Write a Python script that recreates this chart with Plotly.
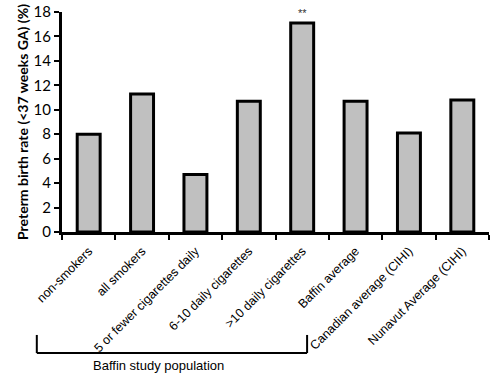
import plotly.graph_objects as go

categories = ["non-smokers", "all smokers", "5 or fewer cigarettes daily",
              "6-10 daily cigarettes", ">10 daily cigarettes", "Baffin average",
              "Canadian average (CIHI)", "Nunavut Average (CIHI)"]
rates = [8.0, 11.3, 4.7, 10.7, 17.1, 10.7, 8.1, 10.8]
y_ticks = [0, 2, 4, 6, 8, 10, 12, 14, 16, 18]
star_label = "**"
star_category = ">10 daily cigarettes"
group_label = "Baffin study population"

fig = go.Figure()
fig.add_trace(go.Bar(
    x=categories, y=rates, width=0.43,
    marker=dict(color="#c0c0c0", line=dict(color="black", width=3)),
    hoverinfo="skip",
))

fig.add_annotation(x=star_category, y=rates[categories.index(star_category)],
                   text=star_label, showarrow=False, yanchor="bottom", yshift=2,
                   font=dict(family="Liberation Sans, Arial", size=11, color="#333"))

# bracket for study population
br_left, br_right, br_top, br_bot = -0.059, 0.574, -0.468, -0.55
for x0, y0, x1, y1 in [(br_left, br_top, br_left, br_bot),
                       (br_left, br_bot, br_right, br_bot),
                       (br_right, br_bot, br_right, br_top)]:
    fig.add_shape(type="line", xref="paper", yref="paper", x0=x0, y0=y0, x1=x1, y1=y1,
                  line=dict(color="black", width=2))
fig.add_annotation(xref="paper", yref="paper", x=0.226, y=-0.605,
                   xanchor="center", yanchor="middle",
                   text=group_label, showarrow=False,
                   font=dict(family="Liberation Sans, Arial", size=13, color="black"))

fig.update_layout(
    width=500, height=380,
    margin=dict(l=62, r=11, t=12, b=148),
    plot_bgcolor="white", paper_bgcolor="white",
    showlegend=False,
)
fig.update_xaxes(
    type="category", tickson="boundaries", ticks="outside", ticklen=5, tickwidth=2,
    tickcolor="black", showline=True, linecolor="black", linewidth=3,
    tickangle=-45, tickfont=dict(family="Liberation Sans, Arial", size=12.5, color="black"),
    ticklabelstandoff=4,
    showgrid=False, range=[-0.5, 7.5], automargin=False,
)
fig.update_yaxes(
    range=[0, 18], tickvals=y_ticks, ticks="outside", ticklen=5, tickwidth=2,
    tickcolor="black", showline=True, linecolor="black", linewidth=3,
    tickfont=dict(family="Lato, Open Sans", size=15, color="black"),
    showgrid=False, zeroline=False, automargin=False,
    title=dict(text="<b>Preterm birth rate (<37 weeks GA) (%)</b>",
               font=dict(family="Lato, Open Sans", size=14, color="black"), standoff=2),
)

fig.write_html("out.html", config={"displayModeBar": False},
               post_script="document.body.style.margin='0';")
